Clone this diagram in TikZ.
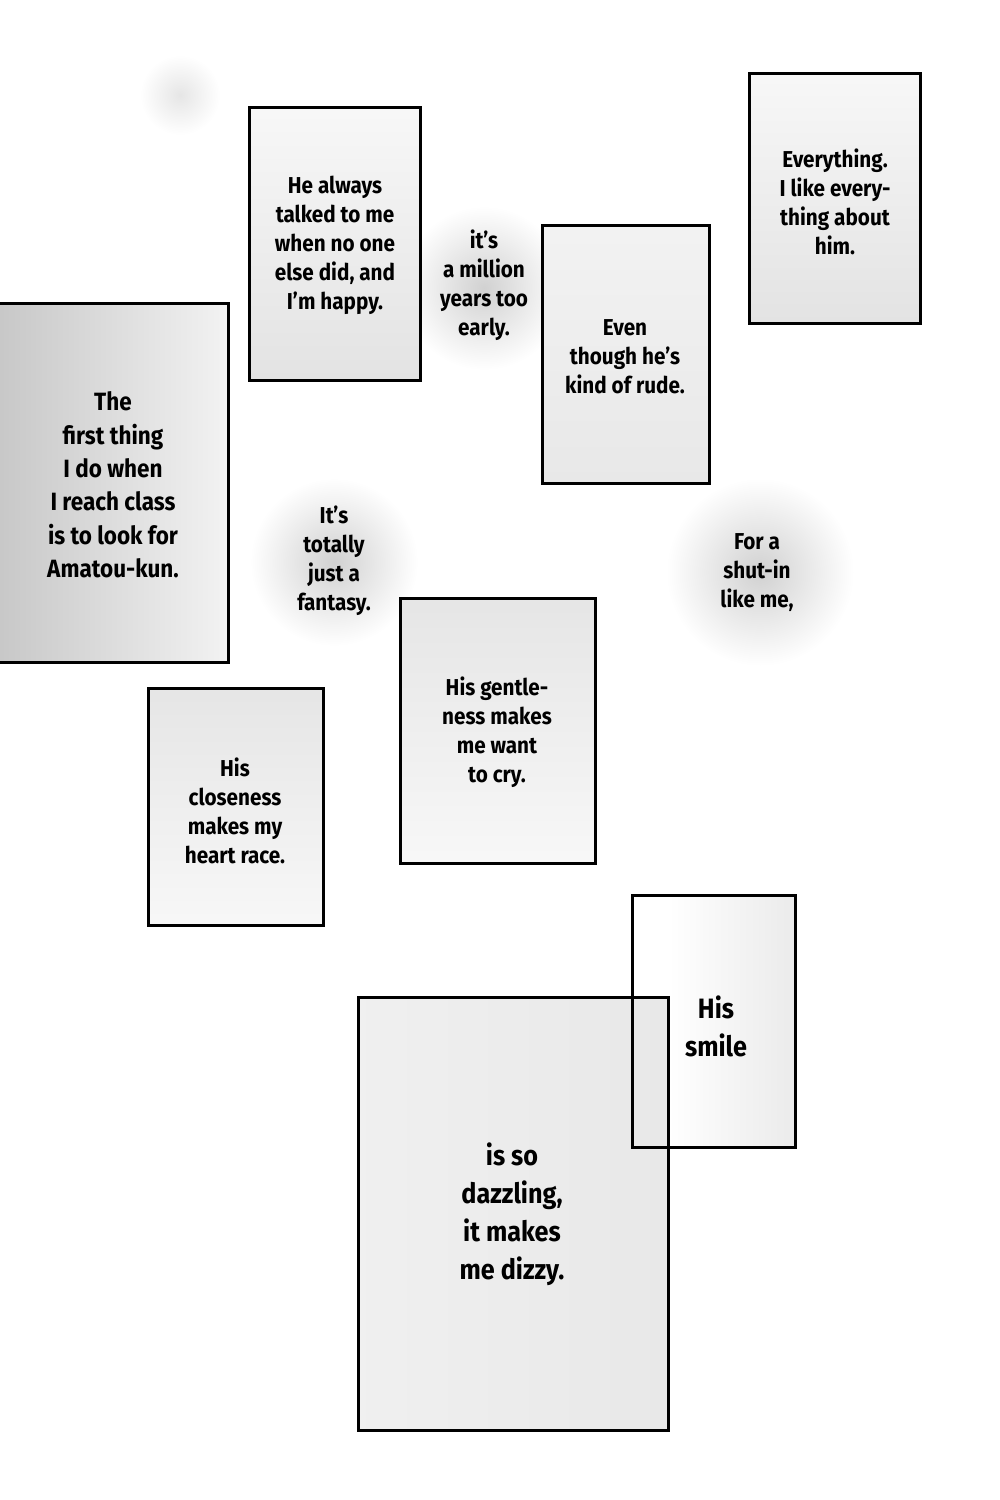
\documentclass[tikz,border=0pt]{standalone}
\usepackage{fontspec}
\newfontfamily\comic{Fira Sans}[FakeStretch=0.9]
\tikzset{
  frame/.style={draw=black, line width=3pt},
  say/.style={font=\comic\bfseries\fontsize{23}{29}\selectfont, align=center, inner sep=0pt, text=black},
  bigsay/.style={font=\comic\bfseries\fontsize{28}{38}\selectfont, align=center, inner sep=0pt, text=black},
  halo/.style={shading=radial, inner color=black!18, outer color=white},
}
\begin{document}
\begin{tikzpicture}[x=1pt,y=-1pt]
\useasboundingbox (0,0) rectangle (1000,1500);
\fill[white] (0,0) rectangle (1000,1500);
% soft blobs / halos
\shade[halo, inner color=black!10] (180,95) circle (40);
\shade[halo] (484,288) circle (82);
\shade[halo] (334,562) circle (84);
\shade[halo] (760,572) circle (94);
% boxes
\shade[top color=black!3, bottom color=black!11] (249,107) rectangle (420,380);
\draw[frame] (249,107) rectangle node (b1) {} (420,380);
\shade[top color=black!3, bottom color=black!11] (749,73) rectangle (920,323);
\draw[frame] (749,73) rectangle node (b2) {} (920,323);
\shade[top color=black!5, bottom color=black!9] (542,225) rectangle (709,483);
\draw[frame] (542,225) rectangle node (b3) {} (709,483);
\shade[left color=black!22, right color=black!5] (-5,303) rectangle (228,662);
\draw[frame] (-5,303) rectangle node (b4) {} (228,662);
\shade[top color=black!10, bottom color=black!3] (400,598) rectangle (595,863);
\draw[frame] (400,598) rectangle node (b5) {} (595,863);
\shade[top color=black!10, bottom color=black!3] (148,688) rectangle (323,925);
\draw[frame] (148,688) rectangle node (b6) {} (323,925);
\shade[left color=black!6, right color=black!9] (358,997) rectangle (668,1430);
\shade[left color=white, right color=black!8] (668,895) rectangle (795,1147);
\draw[frame] (632,895) rectangle node (b7) {} (795,1147);
\draw[frame] (358,997) rectangle node (b8) {} (668,1430);
% texts
\node[say] (t1) at (335,245) {He always\\talked to me\\when no one\\else did, and\\I’m happy.};
\node[say] (t2) at (835,202) {Everything.\\I like every-\\thing about\\him.};
\node[say] (t3) at (625,357) {Even\\though he’s\\kind of rude.};
\node[say, font=\comic\bfseries\fontsize{25}{33.4}\selectfont] (t4) at (113,485) {The\\first thing\\I do when\\I reach class\\is to look for\\Amatou-kun.};
\node[say] (t5) at (497,732) {His gentle-\\ness makes\\me want\\to cry.};
\node[say] (t6) at (235,811) {His\\closeness\\makes my\\heart race.};
\node[bigsay] (t7) at (716,1026) {His\\smile};
\node[bigsay] (t8) at (512,1214) {is so\\dazzling,\\it makes\\me dizzy.};
\node[say] (f1) at (484,285) {it’s\\a million\\years too\\early.};
\node[say] (f2) at (334,561) {It’s\\totally\\just a\\fantasy.};
\node[say] (f3) at (757,573) {For a\\shut-in\\like me,};
\end{tikzpicture}
\end{document}
